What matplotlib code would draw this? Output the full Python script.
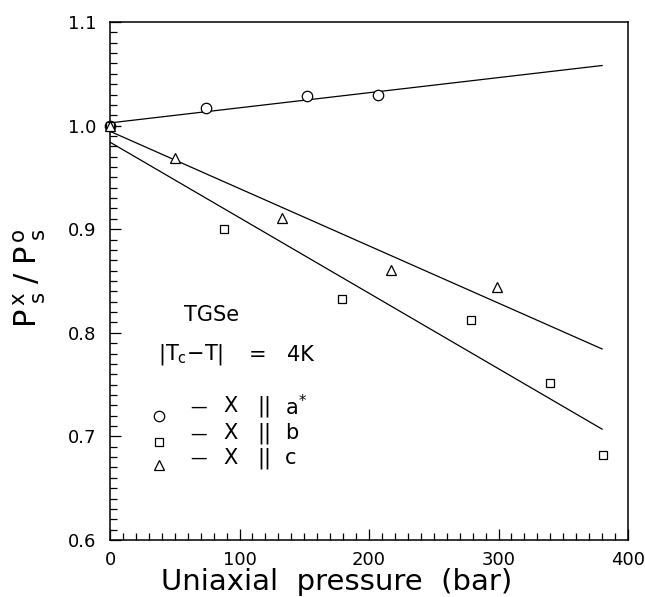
import matplotlib
matplotlib.use("Agg")
import matplotlib.pyplot as plt
from matplotlib.ticker import MultipleLocator

# ---- data ----
a_x = [0, 74, 152, 207]
a_y = [1.000, 1.017, 1.029, 1.030]
b_x = [0, 88, 179, 279, 340, 381]
b_y = [1.000, 0.900, 0.833, 0.812, 0.752, 0.682]
c_x = [0, 50, 133, 217, 299]
c_y = [1.000, 0.969, 0.911, 0.861, 0.844]

fit_x = [0, 380]
fit_a = [1.0026, 1.058]
fit_b = [0.984, 0.707]
fit_c = [0.9945, 0.7844]

legend_rows = [("o", "a$^{*}$"), ("s", "b"), ("^", "c")]

xticks = [0, 100, 200, 300, 400]
yticks = [0.6, 0.7, 0.8, 0.9, 1.0, 1.1]

plt.rcParams['font.family'] = ['DejaVu Sans']
plt.rcParams['mathtext.fontset'] = 'dejavusans'

fig = plt.figure(figsize=(6.45, 5.97), dpi=100)
ax = fig.add_axes([110/645, 1-540/597, 518/645, 518/597])

mk = dict(mfc='white', mec='black', mew=0.9, ls='none', clip_on=False, zorder=3)
ax.plot(fit_x, fit_a, color='black', lw=0.9)
ax.plot(fit_x, fit_b, color='black', lw=0.9)
ax.plot(fit_x, fit_c, color='black', lw=0.9)
ax.plot(a_x, a_y, marker='o', ms=7.5, **mk)
ax.plot(b_x, b_y, marker='s', ms=5.5, **mk)
ax.plot(c_x, c_y, marker='^', ms=6.5, **mk)

ax.set_xlim(0, 400)
ax.set_ylim(0.6, 1.1)
ax.set_xticks(xticks)
ax.set_yticks(yticks)
ax.set_xticklabels([str(v) for v in xticks])
ax.set_yticklabels([f"{v:.1f}" for v in yticks])
ax.xaxis.set_minor_locator(MultipleLocator(10))
ax.yaxis.set_minor_locator(MultipleLocator(0.01))
ax.tick_params(which='both', direction='in', top=False, right=False, labelsize=13, width=0.9)
ax.tick_params(axis='y', which='major', length=8, pad=10)
ax.tick_params(axis='y', which='minor', length=5)
ax.tick_params(axis='x', which='major', length=8, pad=8)
ax.tick_params(axis='x', which='minor', length=5)
for s in ax.spines.values():
    s.set_linewidth(1.1)

ax.set_xlabel("Uniaxial  pressure  (bar)", fontsize=21, va='center')
ax.xaxis.set_label_coords(0.437, -0.081)
ax.set_ylabel(r"$\mathregular{P^{\,x}_{\;s}\;/\;P^{\,o}_{\;s}}$", fontsize=22, va='center', ha='center')
ax.yaxis.set_label_coords(-0.154, 0.506)

fs = 15
ax.text(57, 0.817, "TGSe", fontsize=fs, ha='left', va='center')
ax.text(37, 0.7786, r"|T$_{\mathregular{c}}$−T|", fontsize=fs, ha='left', va='center')
ax.text(114, 0.7786, "=", fontsize=fs, ha='center', va='center')
ax.text(137, 0.7786, "4K", fontsize=fs, ha='left', va='center')

row_text_y = [0.729, 0.703, 0.679]
row_mark_y = [0.720, 0.695, 0.672]
sizes = {"o": 7.5, "s": 5.5, "^": 6.5}
for (m, lab), ty, my in zip(legend_rows, row_text_y, row_mark_y):
    ax.plot([38], [my], marker=m, ms=sizes[m], **mk)
    ax.text(68.5, ty, "—", fontsize=12, ha='center', va='center')
    ax.text(92.7, ty, "X", fontsize=fs, ha='center', va='center')
    ax.text(119, ty, "||", fontsize=fs, ha='center', va='center')
    ax.text(135, ty, lab, fontsize=fs, ha='left', va='center')

fig.savefig("out.png", dpi=100)
